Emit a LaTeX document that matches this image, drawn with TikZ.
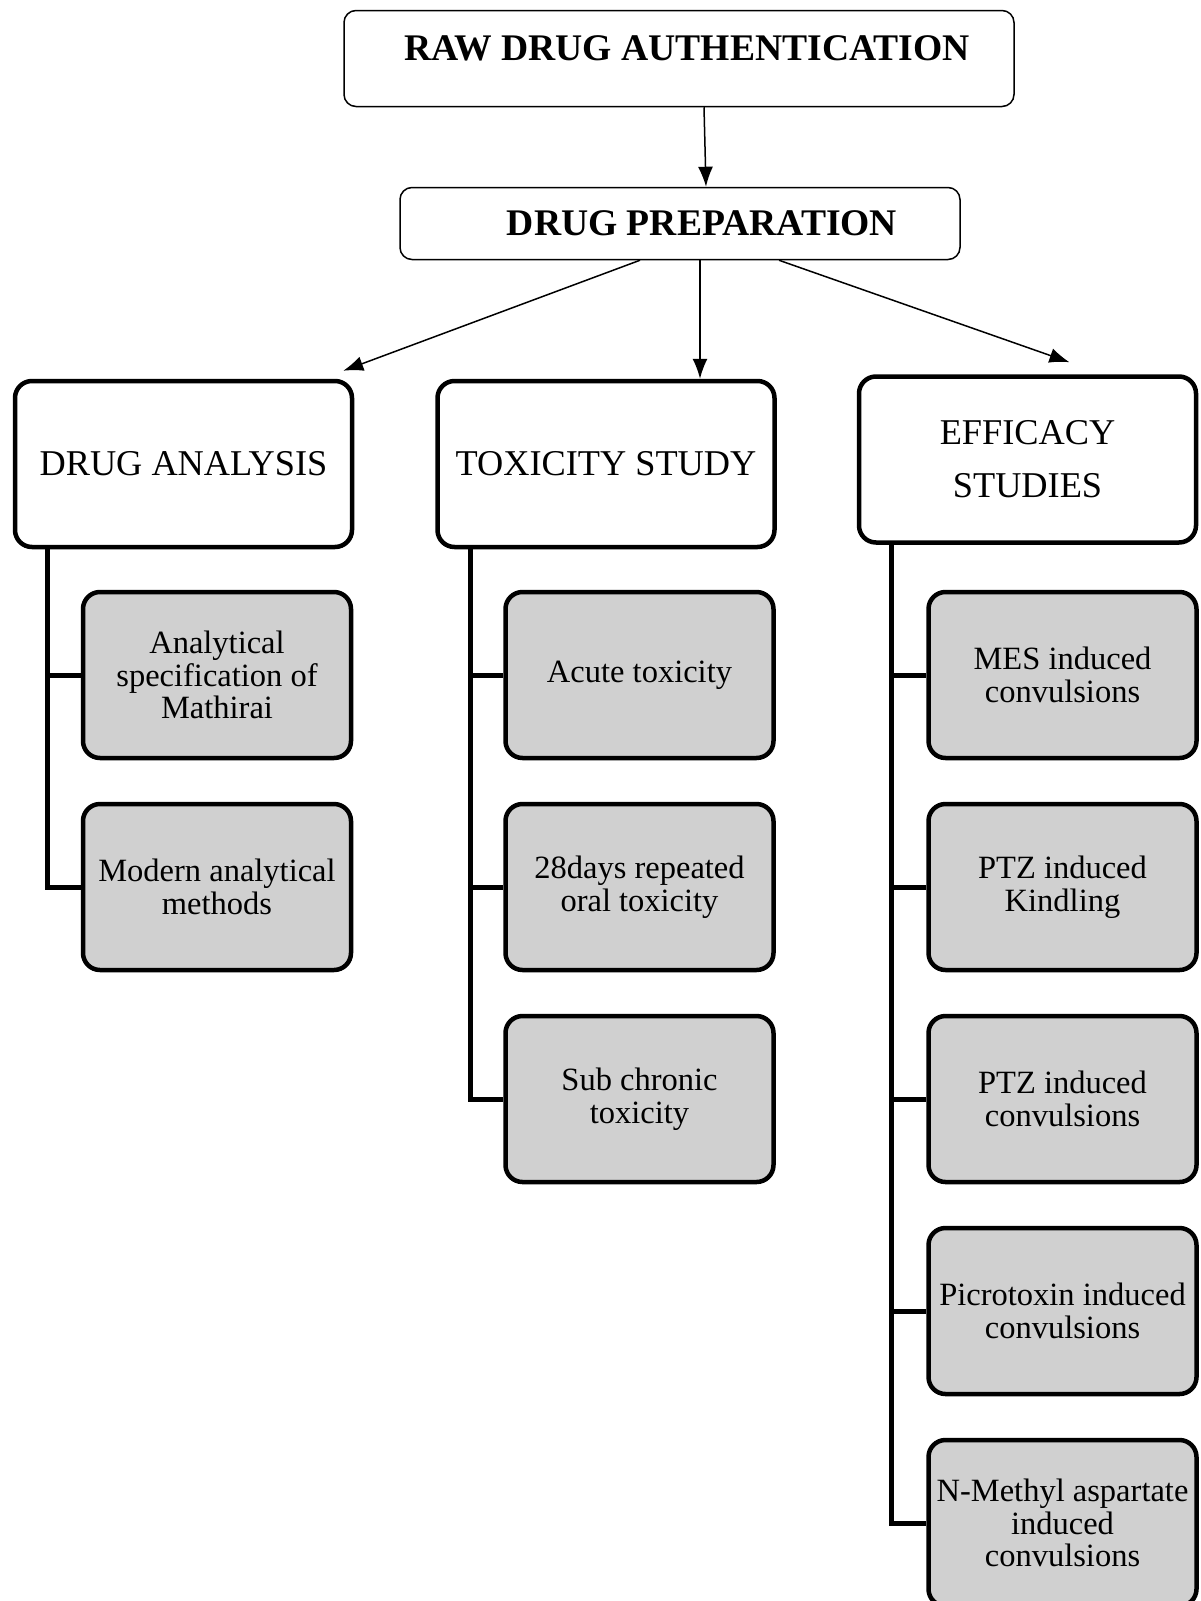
\documentclass[tikz,border=0pt]{standalone}
\usepackage{fontspec}
\setmainfont{Liberation Serif}
\usetikzlibrary{arrows.meta}

\definecolor{subgray}{RGB}{208,208,208}

\tikzset{
  topbox/.style={draw, line width=1.5pt, rounded corners=12pt, fill=white,
    font=\fontsize{37.6}{40}\selectfont\bfseries},
  headbox/.style={draw, line width=4.5pt, rounded corners=17pt, fill=white,
    minimum width=337pt, minimum height=166pt, align=center,
    font=\fontsize{36.3}{53}\selectfont},
  subbox/.style={draw, line width=4.5pt, rounded corners=17pt, fill=subgray,
    minimum width=268pt, minimum height=166pt, align=center,
    font=\fontsize{32.5}{32.8}\selectfont},
  trunk/.style={line width=5pt}
}

\begin{document}
\begin{tikzpicture}[x=1pt, y=-1pt, line width=1.5pt,
    >={Latex[length=20pt,width=15pt]}]
    \useasboundingbox (0,0) rectangle (1201,1601);

    \node [topbox, minimum width=670pt, minimum height=96pt,
      text height=25pt, text depth=22pt] (raw) at (679,58.5)
      {\hspace*{16pt}RAW DRUG AUTHENTICATION};
    \node [topbox, minimum width=560pt, minimum height=72pt] (prep) at (680,223.5)
      {\hspace*{44pt}DRUG PREPARATION};

    \node [headbox] (ana) at (183.5,464) {DRUG ANALYSIS};
    \node [headbox] (tox) at (606,464) {TOXICITY STUDY};
    \node [headbox] (eff) at (1027.5,459.5) {EFFICACY\\STUDIES};

    \node [subbox] (a1) at (217,675) {Analytical\\specification of\\Mathirai};
    \node [subbox] (a2) at (217,887) {Modern analytical\\methods};

    \node [subbox] (t1) at (639.5,675) {Acute toxicity};
    \node [subbox] (t2) at (639.5,887) {28days repeated\\oral toxicity};
    \node [subbox] (t3) at (639.5,1099) {Sub chronic\\toxicity};

    \node [subbox] (e1) at (1062.5,675) {MES induced\\convulsions};
    \node [subbox] (e2) at (1062.5,887) {PTZ induced\\Kindling};
    \node [subbox] (e3) at (1062.5,1099) {PTZ induced\\convulsions};
    \node [subbox] (e4) at (1062.5,1311) {Picrotoxin induced\\convulsions};
    \node [subbox] (e5) at (1062.5,1523) {N-Methyl aspartate\\induced\\convulsions};

    \draw [->] ([xshift=25pt]raw.south) -- ([xshift=26pt]prep.north);

    \draw [->] ([xshift=-40pt]prep.south) -- ([xshift=-11pt,yshift=8pt]ana.north east);
    \draw [->] ([xshift=20pt]prep.south) -- ([xshift=94pt]tox.north);
    \draw [->] ([xshift=99pt]prep.south) -- ([xshift=42pt,yshift=12pt]eff.north);

    \coordinate (ta) at ([xshift=35pt]ana.south west);
    \draw [trunk] (ta) |- (a2.west);
    \draw [trunk] (ta |- a1.west) -- (a1.west);

    \coordinate (tt) at ([xshift=35pt]tox.south west);
    \draw [trunk] (tt) |- (t3.west);
    \draw [trunk] (tt |- t1.west) -- (t1.west);
    \draw [trunk] (tt |- t2.west) -- (t2.west);

    \coordinate (te) at ([xshift=35pt]eff.south west);
    \draw [trunk] (te) |- (e5.west);
    \draw [trunk] (te |- e1.west) -- (e1.west);
    \draw [trunk] (te |- e2.west) -- (e2.west);
    \draw [trunk] (te |- e3.west) -- (e3.west);
    \draw [trunk] (te |- e4.west) -- (e4.west);
  \end{tikzpicture}
\end{document}
